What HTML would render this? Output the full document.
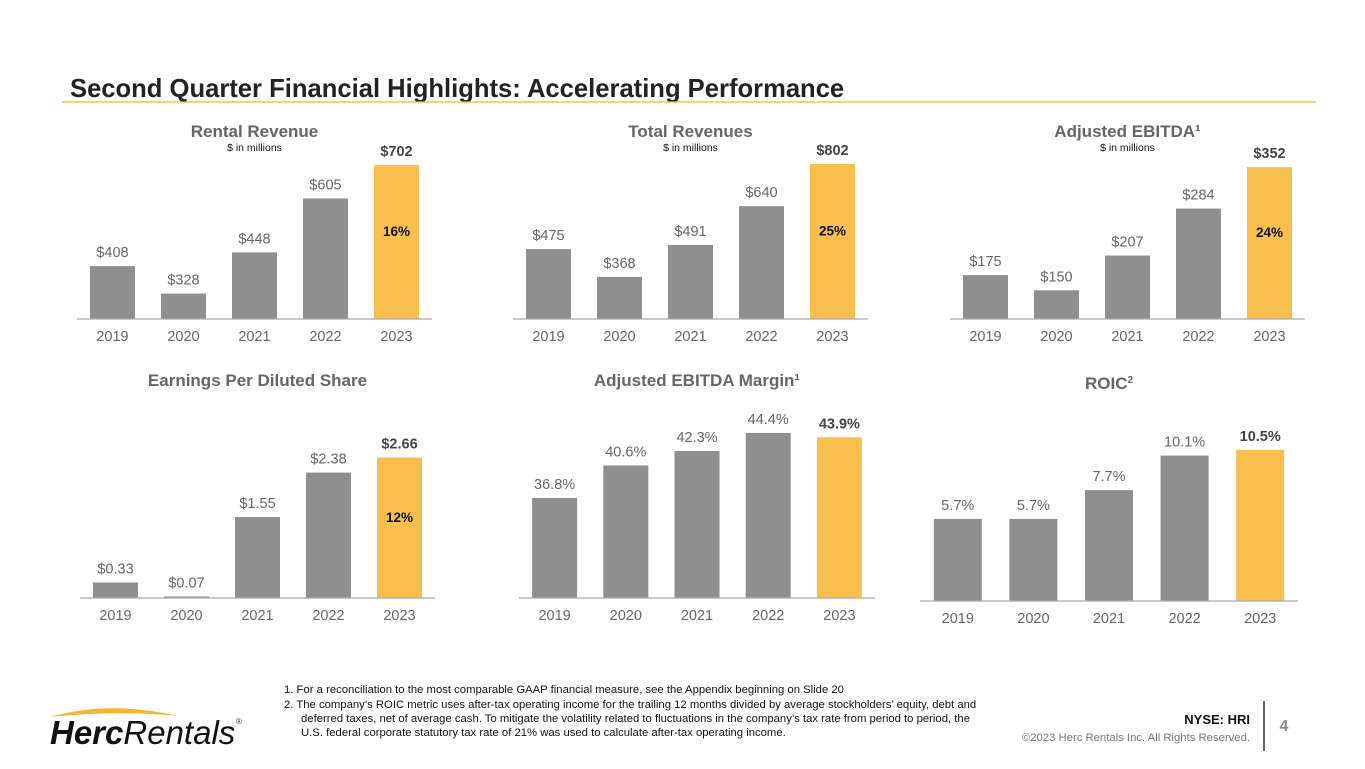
<!DOCTYPE html>
<html><head><meta charset="utf-8"><style>
body{margin:0;width:1365px;height:769px;background:#fff;font-family:"Liberation Sans",Arial,sans-serif;overflow:hidden;position:relative}
svg{position:absolute;left:0;top:0}
</style></head><body>
<svg width="1365" height="769" id="s">
<text x="70" y="97" font-size="25.6" font-weight="bold" fill="#222">Second Quarter Financial Highlights: Accelerating Performance</text>
<line x1="62" y1="102" x2="1316" y2="102" stroke="#f2b630" stroke-width="1.2"/>
<g font-size="11.3" fill="#111">
<text x="284" y="693">1. For a reconciliation to the most comparable GAAP financial measure, see the Appendix beginning on Slide 20</text>
<text x="284" y="708">2. The company’s ROIC metric uses after-tax operating income for the trailing 12 months divided by average stockholders’ equity, debt and</text>
<text x="301" y="722">deferred taxes, net of average cash. To mitigate the volatility related to fluctuations in the company’s tax rate from period to period, the</text>
<text x="301" y="736">U.S. federal corporate statutory tax rate of 21% was used to calculate after-tax operating income.</text>
</g>
<g>
<path d="M50 717 Q110 700 178 716 Q115 710 50 717Z" fill="#f2b630"/>
<text x="50" y="744" font-size="33" font-style="italic" fill="#111"><tspan font-weight="bold">Herc</tspan><tspan>Rentals</tspan></text>
<text x="236" y="724" font-size="8" fill="#333">®</text>
</g>
<text x="1250" y="724" font-size="13" font-weight="bold" text-anchor="end" fill="#111">NYSE: HRI</text>
<text x="1250" y="741" font-size="11.3" text-anchor="end" fill="#777">©2023 Herc Rentals Inc.  All Rights Reserved.</text>
<line x1="1264" y1="701" x2="1264" y2="751" stroke="#333" stroke-width="1.5"/>
<text x="1284" y="731" font-size="16" font-weight="bold" fill="#888" text-anchor="middle">4</text>
</svg>
<script>
const years=["2019","2020","2021","2022","2023"];
const rentalRevenue=[408,328,448,605,702];
const totalRevenues=[475,368,491,640,802];
const adjEbitda=[175,150,207,284,352];
const eps=[0.33,0.07,1.55,2.38,2.66];
const ebitdaMargin=[36.8,40.6,42.3,44.4,43.9];
const roic=[5.7,5.7,7.7,10.1,10.5];
const rentalLabels=["$408","$328","$448","$605","$702"];
const totalLabels=["$475","$368","$491","$640","$802"];
const ebitdaLabels=["$175","$150","$207","$284","$352"];
const epsLabels=["$0.33","$0.07","$1.55","$2.38","$2.66"];
const marginLabels=["36.8%","40.6%","42.3%","44.4%","43.9%"];
const roicLabels=["5.7%","5.7%","7.7%","10.1%","10.5%"];
const growth=["16%","25%","24%","12%",null,null];
const NS="http://www.w3.org/2000/svg";
const svg=document.getElementById('s');
function el(t,a,p){const e=document.createElementNS(NS,t);for(const k in a)e.setAttribute(k,a[k]);(p||svg).appendChild(e);return e;}
const charts=[
 {name:"rental-revenue",title:"Rental Revenue",sub:true,vals:rentalRevenue,labs:rentalLabels,x0:77,x1:432,base:319,min:254,slope:0.3435,bw:45,g:growth[0]},
 {name:"total-revenues",title:"Total Revenues",sub:true,vals:totalRevenues,labs:totalLabels,x0:513,x1:868,base:319,min:206,slope:0.26,bw:45,g:growth[1]},
 {name:"adjusted-ebitda",title:"Adjusted EBITDA¹",sub:true,vals:adjEbitda,labs:ebitdaLabels,x0:950,x1:1305,base:319,min:103,slope:0.61,bw:45,g:growth[2]},
 {name:"eps",title:"Earnings Per Diluted Share",sub:false,vals:eps,labs:epsLabels,x0:80,x1:435,base:598,min:0.04,slope:53.6,bw:45,g:growth[3]},
 {name:"ebitda-margin",title:"Adjusted EBITDA Margin¹",sub:false,vals:ebitdaMargin,labs:marginLabels,x0:519,x1:875,base:598,min:25.1,slope:8.55,bw:45,g:null},
 {name:"roic",title:"ROIC",sup:"2",sub:false,vals:roic,labs:roicLabels,x0:920,x1:1298,base:601,min:0,slope:14.4,bw:48,g:null}
];
charts.forEach(c=>{
 const g=el('g',{});
 
 
 const cx=(c.x0+c.x1)/2;
 const tY=c.base===319?137:c.base===598?386:389;
 const t=el('text',{x:cx,y:tY,'font-size':17,'font-weight':'bold',fill:'#666','text-anchor':'middle'},g);
 t.textContent=c.title;
 if(c.sup){const s=el('tspan',{'font-size':10,dy:-6},t);s.textContent=c.sup;}
 
 
 if(c.sub){const s=el('text',{x:cx,y:151,'font-size':10.5,fill:'#111','text-anchor':'middle'},g);s.textContent="$ in millions";
  
  }
 const step=(c.x1-c.x0)/years.length;
 const y=v=>c.base-(v-c.min)*c.slope;
 c.vals.forEach((v,i)=>{
  const bx=c.x0+step*(i+0.5);
  const last=i===c.vals.length-1;
  const top=y(v);
  const r=el('rect',{x:bx-c.bw/2,y:top,width:c.bw,height:c.base-top,fill:last?'#f8bf4f':'#8f8f8f'},g);
  
  
  const l=el('text',{x:bx,y:top-9,'font-size':14.5,'text-anchor':'middle',fill:last?'#444':'#666','font-weight':last?'bold':'normal'},g);
  l.textContent=c.labs[i];
  
  
  const yl=el('text',{x:bx,y:c.base+22,'font-size':14.5,'text-anchor':'middle',fill:'#666'},g);
  yl.textContent=years[i];
  
  
  if(last&&c.g){const gl=el('text',{x:bx,y:top+(c.base-top)*0.46,'font-size':13.5,'font-weight':'bold','text-anchor':'middle',fill:'#111'},g);
   gl.textContent=c.g;
   
   }
 });
 const ax=el('line',{x1:c.x0,x2:c.x1,y1:c.base,y2:c.base,stroke:'#aaa','stroke-width':1.2},g);
 
 
});
</script>
</body></html>
